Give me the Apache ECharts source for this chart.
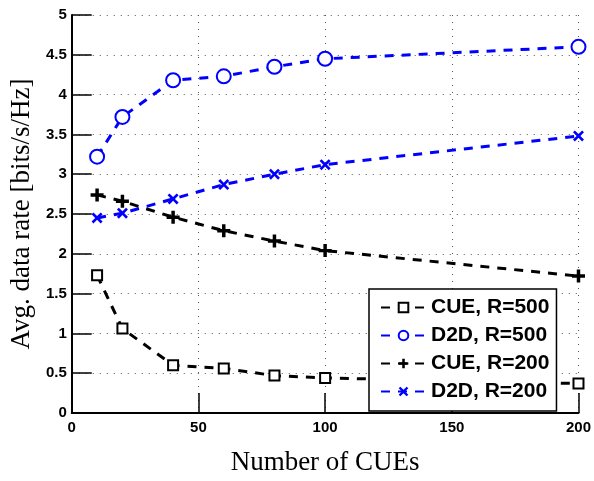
<!DOCTYPE html>
<html>
<head>
<meta charset="utf-8">
<title>Avg. data rate vs number of CUEs</title>
<script src="https://cdn.jsdelivr.net/npm/echarts@6/dist/echarts.min.js"></script>
<style>
  html, body { margin: 0; padding: 0; background: #fff; }
  #chart { width: 594px; height: 481px; }
</style>
</head>
<body>
<div id="chart"></div>
<script>
const cues = [10, 20, 40, 60, 80, 100, 200];
const cueR500 = [1.73, 1.06, 0.60, 0.56, 0.47, 0.44, 0.37];
const d2dR500 = [3.22, 3.72, 4.18, 4.23, 4.35, 4.45, 4.60];
const cueR200 = [2.74, 2.66, 2.46, 2.29, 2.16, 2.04, 1.72];
const d2dR200 = [2.45, 2.51, 2.69, 2.87, 3.00, 3.12, 3.48];
const seriesNames = ['CUE, R=500', 'D2D, R=500', 'CUE, R=200', 'D2D, R=200'];

const BLUE = '#0000ff';
const BLACK = '#000000';
const PLUS = 'path://M4.4,0H7.6V4.4H12V7.6H7.6V12H4.4V7.6H0V4.4H4.4Z';
const CROSS = 'path://M0,1.7L1.7,0L5,3.3L8.3,0L10,1.7L6.7,5L10,8.3L8.3,10L5,6.7L1.7,10L0,8.3L3.3,5Z';

const pairs = (ys) => cues.map((x, i) => [x, ys[i]]);

function makeSeries(name, ys, color, symbol, size, hollow) {
  return {
    name,
    type: 'line',
    data: pairs(ys),
    symbol,
    symbolSize: size,
    showAllSymbol: true,
    lineStyle: { color, width: 3, type: [9, 8] },
    itemStyle: hollow
      ? { color, borderColor: color, borderWidth: 3 }
      : { color, borderWidth: 0 },
    emphasis: { disabled: true }
  };
}

const chart = echarts.init(document.getElementById('chart'), null, { renderer: 'canvas' });
const tickFont = { fontFamily: 'Liberation Sans', fontWeight: 'bold', fontSize: 15, color: BLACK };
const nameFont = { fontFamily: 'Liberation Serif', fontSize: 27, color: BLACK };
const dots = { color: '#555', width: 1, type: [1, 6] };

chart.setOption({
  animation: false,
  backgroundColor: '#fff',
  grid: { left: 70, right: 15, top: 15, bottom: 64 },
  xAxis: {
    type: 'value',
    min: 0, max: 200, interval: 50,
    name: 'Number of CUEs',
    nameLocation: 'middle',
    nameGap: 36,
    nameTextStyle: nameFont,
    axisLine: { lineStyle: { color: BLACK, width: 2 } },
    axisTick: { inside: true, length: 20, lineStyle: { color: BLACK, width: 1.5 } },
    axisLabel: { ...tickFont, margin: 7 },
    splitLine: { show: true, lineStyle: dots }
  },
  yAxis: {
    type: 'value',
    min: 0, max: 5, interval: 0.5,
    name: 'Avg. data rate [bits/s/Hz]',
    nameLocation: 'middle',
    nameGap: 32,
    nameTextStyle: nameFont,
    axisLine: { show: true, lineStyle: { color: BLACK, width: 2 } },
    axisTick: { show: true, inside: true, length: 20, lineStyle: { color: BLACK, width: 1.5 } },
    axisLabel: { ...tickFont, margin: 5 },
    splitLine: { show: true, lineStyle: dots }
  },
  legend: {
    data: seriesNames,
    orient: 'vertical',
    left: 369,
    top: 289,
    backgroundColor: '#fff',
    borderColor: BLACK,
    borderWidth: 1.5,
    borderRadius: 0,
    padding: [8, 7, 9, 11],
    itemWidth: 45,
    itemHeight: 12,
    itemGap: 7,
    textStyle: { fontFamily: 'Liberation Sans', fontWeight: 'bold', fontSize: 21, color: BLACK, lineHeight: 20 }
  },
  series: [
    makeSeries(seriesNames[0], cueR500, BLACK, 'emptyRect', 10, true),
    makeSeries(seriesNames[1], d2dR500, BLUE, 'emptyCircle', 14, true),
    makeSeries(seriesNames[2], cueR200, BLACK, PLUS, 13, false),
    makeSeries(seriesNames[3], d2dR200, BLUE, CROSS, 11, false)
  ]
});

window.addEventListener('resize', () => chart.resize());
</script>
</body>
</html>
